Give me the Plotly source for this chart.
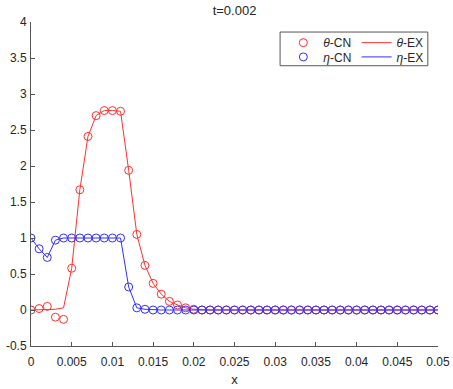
import plotly.graph_objects as go

x_vals = [i / 1000 for i in range(51)]

theta_cn = [0.0, 0.02, 0.05, -0.10, -0.13, 0.58, 1.67, 2.41, 2.70, 2.77, 2.77, 2.76, 1.94, 1.05,
            0.62, 0.37, 0.22, 0.12, 0.07, 0.03, 0.01, 0.0] + [0.0] * 29
theta_ex = [0.0, 0.0, 0.01, 0.01, 0.03, 0.58, 1.67, 2.41, 2.70, 2.77, 2.77, 2.76, 1.94, 1.05,
            0.62, 0.37, 0.22, 0.12, 0.07, 0.03, 0.01, 0.0] + [0.0] * 29
eta_cn = [1.0, 0.85, 0.73, 0.97, 1.0, 1.0, 1.0, 1.0, 1.0, 1.0, 1.0, 1.0, 0.32, 0.03, 0.01] + [0.0] * 36
eta_ex = [1.0, 0.85, 0.73, 0.97, 1.0, 1.0, 1.0, 1.0, 1.0, 1.0, 1.0, 1.0, 0.32, 0.03, 0.01] + [0.0] * 36

x_ticks = [0, 0.005, 0.01, 0.015, 0.02, 0.025, 0.03, 0.035, 0.04, 0.045, 0.05]
x_ticktext = ["0", "0.005", "0.01", "0.015", "0.02", "0.025", "0.03", "0.035", "0.04", "0.045", "0.05"]
y_ticks = [-0.5, 0, 0.5, 1, 1.5, 2, 2.5, 3, 3.5, 4]
y_ticktext = ["-0.5", "0", "0.5", "1", "1.5", "2", "2.5", "3", "3.5", "4"]

RED = "#ff3030"
BLUE = "#3030ff"
TXT = "#262626"
FONT = "Liberation Sans, Arial, sans-serif"

fig = go.Figure()
fig.add_trace(go.Scatter(x=x_vals, y=theta_cn, mode="markers", name="<i>θ</i>-CN",
                         marker=dict(symbol="circle-open", size=8, color=RED, line=dict(width=1)),
                         legend="legend"))
fig.add_trace(go.Scatter(x=x_vals, y=theta_ex, mode="lines", name="<i>θ</i>-EX",
                         line=dict(color=RED, width=1), legend="legend2"))
fig.add_trace(go.Scatter(x=x_vals, y=eta_cn, mode="markers", name="<i>η</i>-CN",
                         marker=dict(symbol="circle-open", size=8, color=BLUE, line=dict(width=1)),
                         legend="legend3"))
fig.add_trace(go.Scatter(x=x_vals, y=eta_ex, mode="lines", name="<i>η</i>-EX",
                         line=dict(color=BLUE, width=1), legend="legend4"))

axis_common = dict(showgrid=False, zeroline=False, showline=True, linecolor="#555555", linewidth=1,
                   ticks="inside", ticklen=4, tickcolor="#555555", tickwidth=1, automargin=False,
                   tickfont=dict(family=FONT, size=12, color=TXT), mirror=False)

leg_common = dict(xanchor="left", yanchor="top", bgcolor="rgba(0,0,0,0)", borderwidth=0,
                  font=dict(family=FONT, size=12, color=TXT), itemwidth=30)

fig.update_layout(
    width=453, height=389,
    margin=dict(l=31, r=15, t=22, b=43),
    paper_bgcolor="white", plot_bgcolor="white",
    font=dict(family=FONT, size=12, color=TXT),
    title=dict(text="t=0.002", x=0.5, xref="paper", y=1 - 10 / 389, yref="container",
               yanchor="middle", xanchor="center", font=dict(family=FONT, size=13, color=TXT)),
    xaxis=dict(range=[0, 0.05], tickvals=x_ticks, ticktext=x_ticktext, ticklabelstandoff=5,
               title=dict(text="x", font=dict(family=FONT, size=13, color=TXT), standoff=6),
               **axis_common),
    yaxis=dict(range=[-0.5, 4], tickvals=y_ticks, ticktext=y_ticktext, ticklabelstandoff=1,
               **axis_common),
    legend=dict(x=0.62, y=0.981, **leg_common),
    legend2=dict(x=0.80, y=0.981, **leg_common),
    legend3=dict(x=0.62, y=0.937, **leg_common),
    legend4=dict(x=0.80, y=0.937, **leg_common),
    shapes=[dict(type="rect", xref="paper", yref="paper", x0=0.612, x1=0.975, y0=0.865, y1=0.969,
                 line=dict(color="#555555", width=1), fillcolor="white", layer="below")],
    showlegend=True,
)

fig.write_html("out.html", config={"displayModeBar": False},
               post_script="document.body.style.margin='0';document.body.style.padding='0';")
